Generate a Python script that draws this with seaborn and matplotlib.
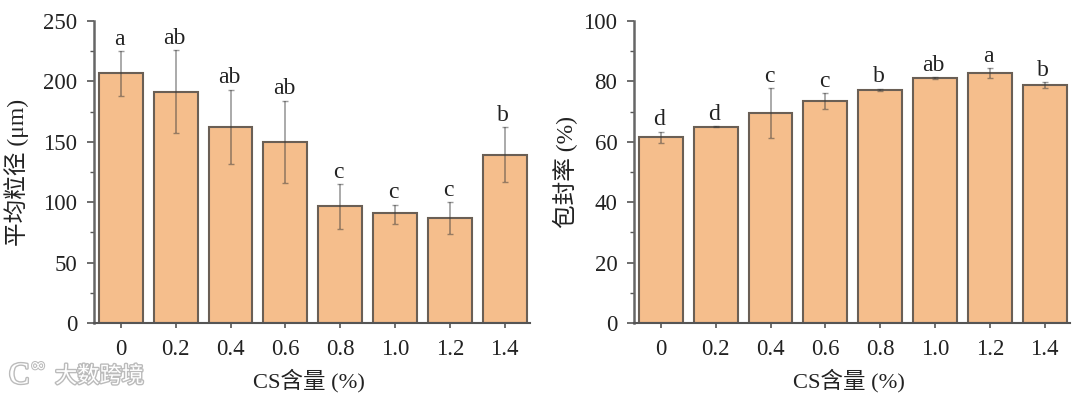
import pandas as pd
import numpy as np
import matplotlib
matplotlib.use('Agg')
import matplotlib.pyplot as plt
import matplotlib.patheffects as pe
from matplotlib.ticker import MultipleLocator
import seaborn as sns

# CS含量 categories
cs_labels = ['0', '0.2', '0.4', '0.6', '0.8', '1.0', '1.2', '1.4']

# 平均粒径
size_mean = [207, 191, 162.5, 150, 97, 91, 87, 139]
size_low = [188, 157, 132, 116, 78, 82, 74, 117]
size_high = [225, 226, 193, 184, 115, 98, 100, 162]
size_letters = ['a', 'ab', 'ab', 'ab', 'c', 'c', 'c', 'b']

# 包封率
rate_mean = [61.5, 65, 69.5, 73.5, 77.2, 81, 82.7, 78.8]
rate_low = [59.7, 64.8, 61.2, 71, 76.8, 80.7, 81.1, 77.9]
rate_high = [63.3, 65.2, 77.8, 76, 77.6, 81.3, 84.3, 79.7]
rate_letters = ['d', 'd', 'c', 'c', 'b', 'ab', 'a', 'b']

sns.set_style('ticks')
plt.rcParams['font.family'] = ['Liberation Serif', 'Noto Sans CJK SC']
plt.rcParams['axes.unicode_minus'] = False

W, H = 1080, 396
fig = plt.figure(figsize=(W / 100, H / 100), dpi=100)


def draw_panel(rect, means, low, high, letters, ymax, major, minor, ylabel, ylab_x):
    ax = fig.add_axes([rect[0] / W, 1 - rect[3] / H, (rect[2] - rect[0]) / W, (rect[3] - rect[1]) / H])
    df = pd.DataFrame({'cs': cs_labels, 'v': means})
    sns.barplot(data=df, x='cs', y='v', ax=ax, color='#F5BE8C', saturation=1, width=0.8,
                edgecolor='#6A5F55', linewidth=1.5, errorbar=None)
    xs = np.arange(len(means))
    m = np.array(means)
    yerr = [m - np.array(low), np.array(high) - m]
    ax.errorbar(xs, m, yerr=yerr, fmt='none', ecolor='#3a3a3a', elinewidth=1.2, capsize=2.5,
                capthick=1, alpha=0.5, zorder=5)
    for x, h, s in zip(xs, high, letters):
        ax.annotate(s, (x, h), xytext=(-1, 1), textcoords='offset points', ha='center', va='bottom',
                    fontsize=17, color='#222222')
    ax.set_xlim(-0.49, 7.46)
    ax.set_ylim(0, ymax)
    ax.yaxis.set_major_locator(MultipleLocator(major))
    ax.yaxis.set_minor_locator(MultipleLocator(minor))
    ax.tick_params(axis='y', which='major', length=5, width=1.2, color='#555555', labelsize=16.5,
                   labelcolor='#222222', pad=7)
    ax.tick_params(axis='y', which='minor', length=2.7, width=1, color='#555555')
    ax.tick_params(axis='x', length=3.5, width=1.2, color='#555555', labelsize=16.5,
                   labelcolor='#222222', pad=8)
    sns.despine(ax=ax)
    ax.spines['left'].set_linewidth(1.8)
    ax.spines['left'].set_color('#666666')
    ax.spines['bottom'].set_linewidth(1.5)
    ax.spines['bottom'].set_color('#555555')
    ax.set_xlabel('CS含量 (%)', fontsize=16.2, color='#222222', labelpad=6, x=0.493)
    ax.set_ylabel(ylabel, fontsize=17, color='#222222')
    ax.yaxis.set_label_coords((ylab_x - rect[0]) / (rect[2] - rect[0]), 0.5)
    return ax


draw_panel((94, 21, 530, 323), size_mean, size_low, size_high, size_letters, 250, 50, 25, '平均粒径 (μm)', 29)
draw_panel((634, 21, 1070, 323), rate_mean, rate_low, rate_high, rate_letters, 100, 20, 10, '包封率 (%)', 578)

# watermark
fig.text(55 / W, 1 - 376 / H, '大数跨境', fontsize=16, color='white', ha='left', va='center',
         family=['Noto Sans CJK SC', 'DejaVu Sans'],
         path_effects=[pe.withStroke(linewidth=2, foreground='#bbbbbb')])
fig.text(9 / W, 1 - 376 / H, 'C', fontsize=22, color='white', ha='left', va='center',
         path_effects=[pe.withStroke(linewidth=2, foreground='#bbbbbb')])
fig.text(30 / W, 1 - 366 / H, '∞', fontsize=14, color='white', ha='left', va='center',
         family=['DejaVu Sans'], path_effects=[pe.withStroke(linewidth=1.5, foreground='#bbbbbb')])

fig.savefig('out.png', dpi=100)
